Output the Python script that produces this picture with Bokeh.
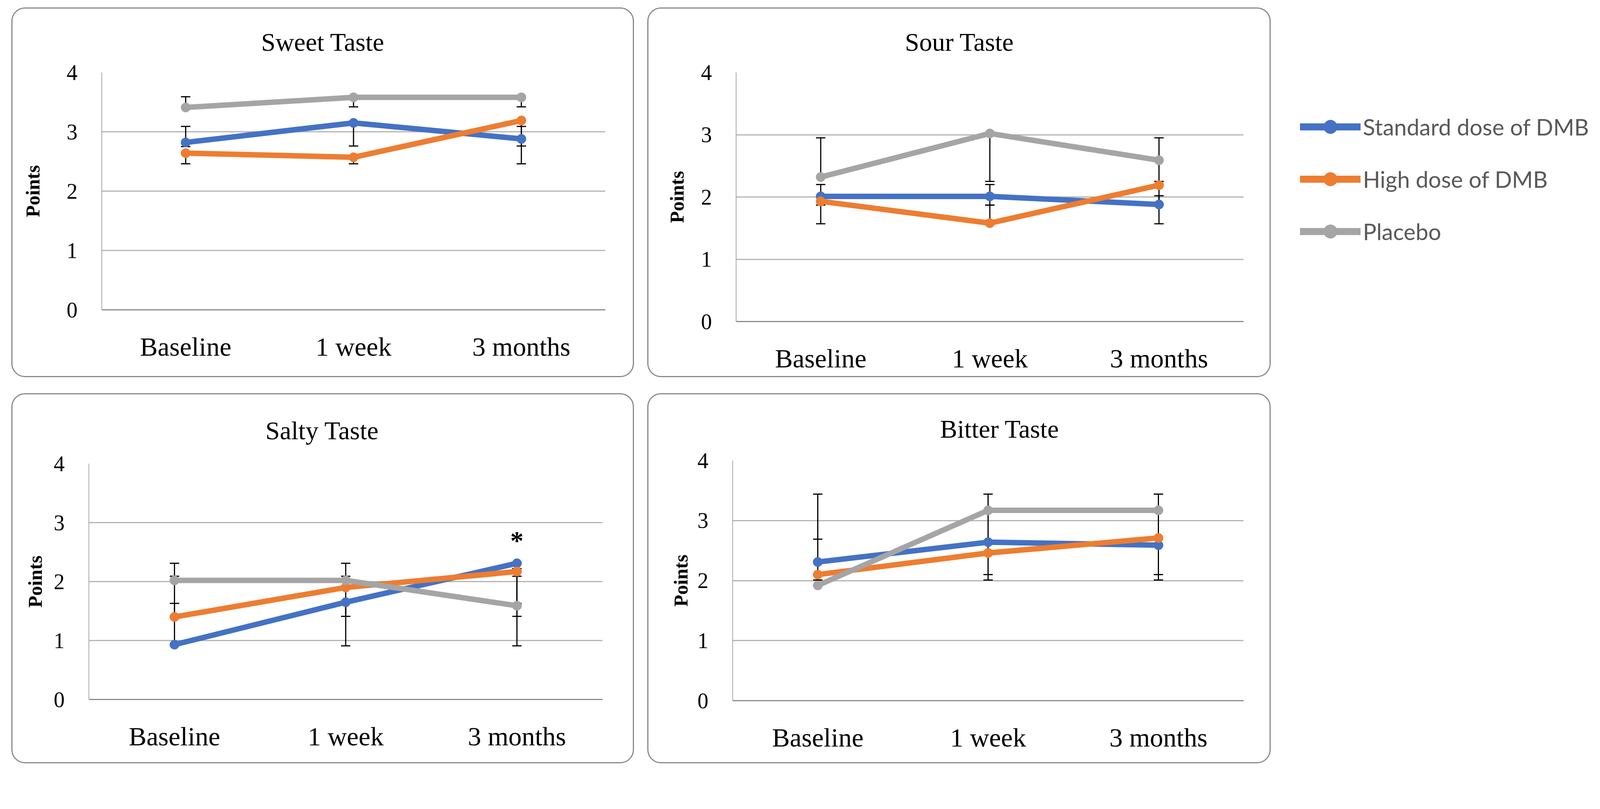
from bokeh.plotting import figure
from bokeh.models import (ColumnDataSource, Whisker, TeeHead, Title, Legend,
                          LegendItem, Spacer, Range1d, FactorRange)
from bokeh.layouts import row, column
from bokeh.embed import file_html
from bokeh.resources import INLINE
from bokeh.core.properties import value

# ---------------- data ----------------
categories = ["Baseline", "1 week", "3 months"]
series_names = ["Standard dose of DMB", "High dose of DMB", "Placebo"]
series_colors = ["#4472C4", "#ED7D31", "#A5A5A5"]
y_ticks = [0, 1, 2, 3, 4]

# Sweet taste
sweet_standard = [2.82, 3.15, 2.88]
sweet_high = [2.64, 2.57, 3.19]
sweet_placebo = [3.41, 3.58, 3.58]
sweet_standard_lo = [2.75, 2.76, 2.46]
sweet_standard_hi = [3.09, 3.16, 3.09]
sweet_high_lo = [2.46, 2.46, 2.76]
sweet_high_hi = [2.64, 2.57, 3.19]
sweet_placebo_lo = [3.41, 3.42, 3.42]
sweet_placebo_hi = [3.59, 3.58, 3.58]

# Sour taste
sour_standard = [2.01, 2.01, 1.88]
sour_high = [1.93, 1.58, 2.19]
sour_placebo = [2.32, 3.02, 2.59]
sour_standard_lo = [1.87, 1.87, 1.57]
sour_standard_hi = [2.20, 2.20, 2.02]
sour_high_lo = [1.57, 1.58, 1.87]
sour_high_hi = [1.93, 1.87, 2.25]
sour_placebo_lo = [2.32, 2.25, 2.25]
sour_placebo_hi = [2.95, 3.02, 2.95]

# Salty taste
salty_standard = [0.93, 1.65, 2.31]
salty_high = [1.40, 1.90, 2.17]
salty_placebo = [2.02, 2.02, 1.59]
salty_standard_lo = [0.93, 0.91, 1.41]
salty_standard_hi = [1.63, 1.65, 2.31]
salty_high_lo = [1.40, 1.90, 1.63]
salty_high_hi = [2.09, 2.09, 2.22]
salty_placebo_lo = [2.02, 1.41, 0.91]
salty_placebo_hi = [2.31, 2.31, 2.09]
salty_star_category = "3 months"
salty_star_value = 2.70

# Bitter taste
bitter_standard = [2.31, 2.64, 2.59]
bitter_high = [2.10, 2.46, 2.71]
bitter_placebo = [1.92, 3.17, 3.17]
bitter_standard_lo = [2.31, 2.10, 2.01]
bitter_standard_hi = [3.44, 3.17, 2.69]
bitter_high_lo = [2.01, 2.01, 2.10]
bitter_high_hi = [2.10, 2.46, 2.71]
bitter_placebo_lo = [1.92, 3.17, 2.72]
bitter_placebo_hi = [2.69, 3.44, 3.44]

# ---------------- layout / style ----------------
S = 0.97          # page px per target px
BW = 3            # css border width of each panel box
SERIF = "Liberation Serif"


def s(v):
    return int(round(v * S))


# panel geometry in target pixels: box (x0, y0, x1, y1), frame (L, T, R, B)
geo1 = dict(box=(38, 28, 1687, 1010), frame=(276, 199, 1605, 825),
            toff=408, als=58)
geo2 = dict(box=(1722, 28, 3374, 1010), frame=(1956, 199, 3296, 856),
            toff=432, als=32)
geo3 = dict(box=(38, 1052, 1687, 2035), frame=(242, 1238, 1597, 1860),
            toff=452, als=18)
geo4 = dict(box=(1722, 1052, 3374, 2035), frame=(1947, 1229, 3296, 1863),
            toff=531, als=12)


def make_panel(title, means, lows, highs, g, star=None):
    x0, y0, x1, y1 = g["box"]
    L, T, R, B = g["frame"]
    w = s(x1 - x0) - 2 * BW
    h = s(y1 - y0) - 2 * BW
    ml, mr, mt, mb = s(L - x0) - BW, s(x1 - R) - BW, s(T - y0) - BW, s(y1 - B) - BW
    p = figure(width=w, height=h,
               x_range=FactorRange(factors=categories), y_range=Range1d(0, 4),
               output_backend="svg", toolbar_location=None,
               min_border_left=ml, min_border_right=mr,
               min_border_top=mt, min_border_bottom=mb)
    p.frame_align = False
    p.styles = {"border": f"{BW}px solid #8a8a8a", "border-radius": "35px",
                "background-color": "white"}
    p.border_fill_color = None
    p.outline_line_color = None
    p.background_fill_color = "white"

    p.title = Title(text=title, align="left", offset=g["toff"],
                    standoff=mt - 80, text_font=SERIF,
                    text_font_size="66px", text_font_style="normal",
                    text_color="black")

    p.xgrid.grid_line_color = None
    p.ygrid.grid_line_color = "#b4b4b4"
    p.ygrid.grid_line_width = 3
    p.yaxis.ticker = y_ticks

    p.axis.major_tick_line_color = None
    p.axis.minor_tick_line_color = None
    p.axis.major_label_text_font = SERIF
    p.axis.major_label_text_color = "black"
    p.xaxis.major_label_text_font_size = "68px"
    p.yaxis.major_label_text_font_size = "56px"
    p.xaxis.major_label_standoff = 50
    p.yaxis.major_label_standoff = 56
    p.xaxis.axis_line_color = "#8c8c8c"
    p.xaxis.axis_line_width = 3
    p.yaxis.axis_line_color = "#a6a6a6"
    p.yaxis.axis_line_width = 2

    p.yaxis.axis_label = "Points"
    p.yaxis.axis_label_text_font = SERIF
    p.yaxis.axis_label_text_font_style = "bold"
    p.yaxis.axis_label_text_font_size = "50px"
    p.yaxis.axis_label_text_color = "black"
    p.yaxis.axis_label_standoff = s(g["als"])

    for lo, hi in zip(lows, highs):
        src = ColumnDataSource(dict(x=categories, lo=lo, hi=hi))
        wk = Whisker(base="x", lower="lo", upper="hi", source=src,
                     line_color="black", line_width=3, level="underlay",
                     upper_head=TeeHead(size=24, line_color="black", line_width=3),
                     lower_head=TeeHead(size=24, line_color="black", line_width=3))
        p.add_layout(wk)

    for m, c in zip(means, series_colors):
        p.line(x=categories, y=m, line_width=14, line_color=c,
               line_join="round", line_cap="round")
        p.scatter(x=categories, y=m, size=24, fill_color=c, line_color=c)

    if star is not None:
        p.text(x=[star[0]], y=[star[1]], text=["*"],
               text_font=value(SERIF), text_font_style="bold",
               text_font_size="68px", text_align="center",
               text_baseline="middle", text_color="black")
    return p


p1 = make_panel("Sweet Taste", [sweet_standard, sweet_high, sweet_placebo],
                [sweet_standard_lo, sweet_high_lo, sweet_placebo_lo],
                [sweet_standard_hi, sweet_high_hi, sweet_placebo_hi], geo1)
p2 = make_panel("Sour Taste", [sour_standard, sour_high, sour_placebo],
                [sour_standard_lo, sour_high_lo, sour_placebo_lo],
                [sour_standard_hi, sour_high_hi, sour_placebo_hi], geo2)
p3 = make_panel("Salty Taste", [salty_standard, salty_high, salty_placebo],
                [salty_standard_lo, salty_high_lo, salty_placebo_lo],
                [salty_standard_hi, salty_high_hi, salty_placebo_hi], geo3,
                star=(salty_star_category, salty_star_value))
p4 = make_panel("Bitter Taste", [bitter_standard, bitter_high, bitter_placebo],
                [bitter_standard_lo, bitter_high_lo, bitter_placebo_lo],
                [bitter_standard_hi, bitter_high_hi, bitter_placebo_hi], geo4)

# legend figure (its renderers hold one point each, kept outside the visible range)
pl = figure(width=830, height=760, x_range=Range1d(0, 1), y_range=Range1d(0, 1),
            output_backend="svg", toolbar_location=None,
            min_border_left=s(3451 - 3374), min_border_top=262,
            min_border_right=0, min_border_bottom=0)
pl.frame_align = False
pl.axis.visible = False
pl.grid.visible = False
pl.outline_line_color = None
pl.border_fill_color = None
pl.background_fill_color = None
items = []
for name, c in zip(series_names, series_colors):
    rl = pl.line(x=[-5, -4], y=[-5, -5], line_width=18, line_color=c,
                 line_cap="round")
    rs = pl.scatter(x=[-5], y=[-5], size=35, fill_color=c, line_color=c)
    items.append(LegendItem(label=name, renderers=[rl, rs]))
legend = Legend(items=items, location="top_left", margin=0, padding=0,
                border_line_color=None, background_fill_alpha=0,
                glyph_width=155, glyph_height=87, label_height=87,
                label_standoff=6, spacing=47,
                label_text_font="Lato", label_text_font_size="58px",
                label_text_color="#595959")
pl.add_layout(legend)

top = row(Spacer(width=s(38) - 8), p1, Spacer(width=s(35)), p2, pl)
bottom = row(Spacer(width=s(38) - 8), p3, Spacer(width=s(35)), p4)
layout = column(Spacer(height=s(28) - 8), top, Spacer(height=s(42)), bottom)

open("out.html", "w").write(file_html(layout, INLINE))
